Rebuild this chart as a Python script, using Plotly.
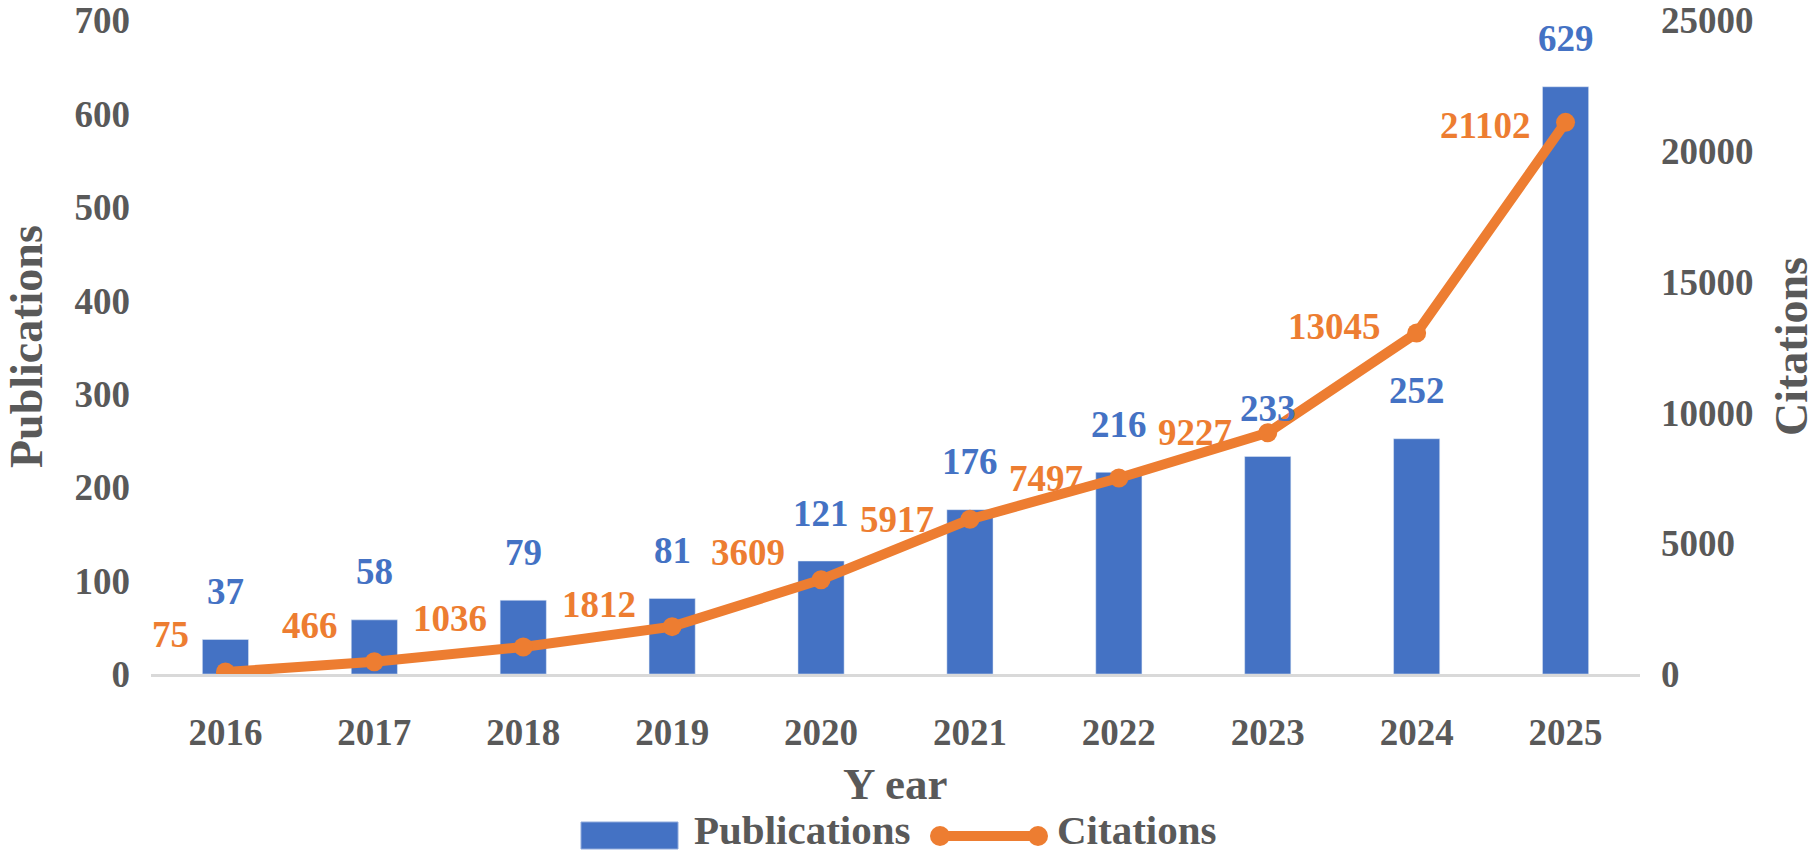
import plotly.graph_objects as go

years = ["2016", "2017", "2018", "2019", "2020", "2021", "2022", "2023", "2024", "2025"]
publications = [37, 58, 79, 81, 121, 176, 216, 233, 252, 629]
citations = [75, 466, 1036, 1812, 3609, 5917, 7497, 9227, 13045, 21102]
pub_ticks = [0, 100, 200, 300, 400, 500, 600, 700]
cite_ticks = [0, 5000, 10000, 15000, 20000, 25000]

# how far each citation label was nudged up in the original (px)
cite_label_lift = [38, 36, 28, 22, 27, 0, 0, 0, 6, -3]

BLUE = "#4472C4"
ORANGE = "#ED7D31"
GREY = "#595959"
FONT = "Liberation Serif"

W, H = 1816, 856
ML, MR, MT, MB = 151, 176, 20, 182
PW, PH = W - ML - MR, H - MT - MB


def px_x(px):
    return (px - ML) / PW


def px_y(py):
    return (H - MB - py) / PH


def font(size, color=GREY):
    return dict(family=FONT, size=size, color=color, weight=700)


def label(x, y, text, size, **kw):
    d = dict(x=x, y=y, xref="paper", yref="paper", text=text, showarrow=False,
             xanchor="center", yanchor="middle", font=font(size))
    d.update(kw)
    return d


fig = go.Figure()
fig.add_trace(go.Bar(x=years, y=publications, marker_color=BLUE, width=0.31,
                     name="Publications"))
fig.add_trace(go.Scatter(x=years, y=citations, yaxis="y2", mode="lines+markers",
                         line=dict(color=ORANGE, width=10),
                         marker=dict(color=ORANGE, size=19),
                         name="Citations"))

# on a category axis annotations take the category index
annotations = []
for i, v in enumerate(publications):
    annotations.append(dict(x=i, y=v, xref="x", yref="y", text=str(v),
                            showarrow=False, xanchor="center", yanchor="middle",
                            yshift=48, font=font(37, BLUE)))
for i, (v, lift) in enumerate(zip(citations, cite_label_lift)):
    annotations.append(dict(x=i, y=v, xref="x", yref="y2", text=str(v),
                            showarrow=False, xanchor="right", yanchor="middle",
                            xshift=-34, yshift=lift, font=font(37, ORANGE)))

# axis titles
annotations.append(label(px_x(26), 0.5, "Publications", 46, textangle=-90))
annotations.append(label(px_x(1791), 0.5, "Citations", 46, textangle=-90))
annotations.append(label(0.5, px_y(784), "Y ear", 45))

# hand-drawn legend to match the wide swatches
annotations.append(label(px_x(692), px_y(830), "Publications", 41, xanchor="left"))
annotations.append(label(px_x(1055), px_y(830), "Citations", 41, xanchor="left"))

shapes = [
    dict(type="rect", xref="paper", yref="paper", x0=px_x(581), x1=px_x(678),
         y0=px_y(849), y1=px_y(822), fillcolor=BLUE,
         line=dict(color="#8FAADC", width=1)),
    dict(type="line", xref="paper", yref="paper", x0=px_x(940), x1=px_x(1038),
         y0=px_y(836), y1=px_y(836), line=dict(color=ORANGE, width=10)),
]
for cx in (940, 1038):
    shapes.append(dict(type="circle", xref="paper", yref="paper",
                       xsizemode="pixel", ysizemode="pixel",
                       xanchor=px_x(cx), yanchor=px_y(836),
                       x0=-10, x1=10, y0=-10, y1=10,
                       fillcolor=ORANGE, line=dict(width=0)))

fig.update_layout(
    width=W, height=H,
    margin=dict(l=ML, r=MR, t=MT, b=MB, autoexpand=False),
    paper_bgcolor="white", plot_bgcolor="white",
    showlegend=False,
    annotations=annotations,
    shapes=shapes,
    xaxis=dict(type="category", range=[-0.5, len(years) - 0.5],
               showgrid=False, zeroline=False, automargin=False,
               showline=True, linecolor="#D9D9D9", linewidth=3,
               ticks="", ticklabelstandoff=24, tickfont=font(37)),
    yaxis=dict(range=[0, 700.5], tickvals=pub_ticks, showgrid=False,
               zeroline=False, showline=False, ticks="", automargin=False,
               ticklabelstandoff=20, tickfont=font(37)),
    yaxis2=dict(range=[0, 25018], tickvals=cite_ticks,
                ticktext=[str(t) for t in cite_ticks], overlaying="y",
                side="right", showgrid=False, zeroline=False, showline=False,
                ticks="", automargin=False, ticklabelstandoff=20,
                tickfont=font(37)),
)

# drop the default page margin so the figure fills the window exactly
fig.write_html("out.html",
               config={"displayModeBar": False},
               post_script="document.body.style.margin='0';"
                           "document.body.style.overflow='hidden';")
